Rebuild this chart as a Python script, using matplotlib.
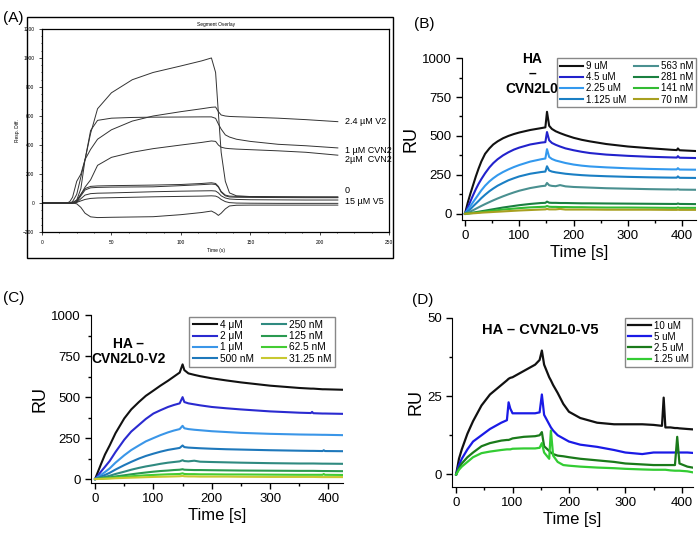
import matplotlib
matplotlib.use('Agg')
import matplotlib.pyplot as plt
from matplotlib.patches import Rectangle
from matplotlib.ticker import MultipleLocator

plt.rcParams['font.family'] = ['Liberation Sans', 'DejaVu Sans']

# ---- panel A: segment overlay (time in s, response) ----
tA = [0, 10, 18, 20, 22, 25, 28, 31, 35, 40, 50, 65, 80, 100, 115, 122,
      125, 127, 129, 132, 135, 140, 150, 170, 190, 213]
a_curves = [
    [0, 0, 0, 10, 40, 150, 200, 300, 480, 650, 760, 850, 900, 945, 980, 1000,
     900, 620, 350, 150, 70, 50, 45, 42, 41, 40],
    [0, 0, 0, 0, 0, 20, 100, 300, 500, 570, 585, 590, 592, 593, 594, 594,
     584, 545, 510, 470, 455, 440, 425, 405, 395, 380],
    [0, 0, 0, 0, 10, 60, 180, 300, 370, 440, 505, 565, 600, 630, 650, 660,
     662, 630, 607, 600, 597, 595, 592, 585, 575, 561],
    [0, 0, 0, 0, 5, 20, 60, 110, 160, 260, 315, 350, 375, 400, 418, 428,
     425, 400, 385, 378, 375, 372, 368, 360, 350, 330],
    [0, 0, 0, 0, 0, 10, 60, 100, 115, 118, 120, 122, 124, 128, 135, 140,
     135, 115, 80, 55, 48, 46, 45, 44, 43, 43],
    [0, 0, 0, 0, 0, 10, 50, 90, 105, 108, 110, 111, 112, 120, 127, 131,
     128, 110, 75, 50, 42, 40, 39, 38, 37, 37],
    [0, 0, 0, 0, 0, 5, 30, 55, 65, 68, 70, 74, 78, 82, 84, 85,
     83, 70, 50, 35, 28, 25, 23, 22, 21, 21],
    [0, 0, 0, 0, 0, 5, 15, 25, 32, 35, 37, 40, 43, 46, 48, 50,
     48, 40, 25, 10, 3, 0, -1, -2, -2, -2],
    [0, 0, 0, 0, 0, -5, -30, -70, -95, -100, -98, -96, -94, -80, -65, -55,
     -70, -85, -70, -40, -20, -15, -14, -14, -14, -14],
]
a_labels = ['2.4 µM V2', '1 µM CVN2', '2µM  CVN2', '0', '15 µM V5']
a_label_y = [565, 365, 297, 90, 14]

# ---- panel B: HA - CVN2L0 ----
tB = [0, 5, 10, 15, 20, 25, 30, 37, 45, 52, 60, 70, 80, 90, 100, 120, 140,
      148, 151, 155, 160, 167, 175, 185, 200, 215, 230, 260, 300, 340, 380,
      390, 392, 395, 425]
b_labels = ['9 uM', '4.5 uM', '2.25 uM', '1.125 uM',
            '563 nM', '281 nM', '141 nM', '70 nM']
b_colors = ['#111111', '#2222cc', '#3399ee', '#1a7fc4',
            '#4a9090', '#1a8040', '#33bb33', '#a8a020']
b_values = [
    [0, 70, 130, 185, 240, 290, 335, 385, 420, 445, 465, 485, 500, 512, 522, 538, 550,
     555, 655, 565, 545, 530, 518, 505, 488, 475, 465, 448, 432, 421, 411,
     409, 420, 408, 403],
    [0, 40, 80, 120, 158, 192, 222, 260, 298, 325, 350, 375, 395, 412, 425, 445, 457,
     460, 525, 472, 455, 443, 432, 420, 408, 398, 390, 380, 372, 366, 362,
     361, 370, 360, 358],
    [0, 25, 50, 75, 100, 125, 150, 180, 208, 228, 248, 268, 285, 300, 313, 335, 350,
     355, 415, 365, 352, 342, 335, 326, 316, 309, 304, 298, 292, 288, 285,
     285, 293, 284, 283],
    [0, 15, 30, 48, 65, 82, 100, 122, 145, 162, 180, 198, 215, 228, 240, 257, 268,
     271, 305, 278, 271, 266, 262, 257, 252, 248, 245, 241, 237, 234, 232,
     232, 240, 231, 230],
    [0, 7, 15, 23, 32, 41, 50, 62, 75, 86, 98, 112, 125, 137, 148, 165, 177,
     180, 198, 183, 179, 177, 184, 176, 172, 170, 168, 164, 161, 158, 156,
     156, 158, 155, 154],
    [0, 2, 5, 7, 10, 13, 16, 20, 25, 29, 34, 40, 45, 50, 55, 63, 69,
     70, 78, 71, 70, 70, 69, 69, 68, 67, 67, 66, 65, 64, 63,
     63, 66, 63, 62],
    [0, 1, 3, 5, 7, 9, 11, 14, 17, 20, 23, 27, 30, 33, 36, 41, 44,
     45, 50, 45, 44, 44, 43, 43, 42, 42, 41, 40, 40, 39, 38,
     38, 41, 38, 38],
    [0, 1, 2, 3, 4, 5.5, 7, 8.5, 10, 11.5, 13, 15, 17, 19, 21, 24, 27,
     28, 31, 28, 28, 28, 31, 27, 27, 27, 27, 26, 26, 26, 25,
     25, 26, 25, 25],
]

# ---- panel C: HA - CVN2L0-V2 ----
tC = [0, 5, 10, 17, 25, 35, 50, 62, 75, 87, 100, 112, 125, 135, 145, 150, 153,
      160, 170, 180, 200, 225, 250, 300, 350, 370, 372, 374, 390, 392, 394, 425]
c_labels = ['4 μM', '2 μM', '1 μM', '500 nM',
            '250 nM', '125 nM', '62.5 nM', '31.25 nM']
c_colors = ['#111111', '#2a2ad0', '#3a96e8', '#1e78bb',
            '#2f8a80', '#2a9a50', '#44cc33', '#c8c830']
c_values = [
    [0, 45, 90, 150, 205, 280, 370, 425, 470, 508, 540, 570, 600, 625, 650, 700, 665,
     645, 636, 628, 615, 602, 590, 570, 556, 552, 552, 552, 548, 548, 548, 545],
    [0, 22, 45, 75, 110, 165, 240, 290, 330, 367, 400, 420, 440, 452, 462, 500, 470,
     462, 456, 450, 440, 432, 425, 413, 405, 403, 410, 402, 400, 400, 400, 398],
    [0, 12, 25, 43, 65, 100, 145, 177, 205, 230, 250, 268, 285, 296, 305, 325, 310,
     305, 301, 298, 292, 287, 282, 276, 272, 271, 271, 271, 270, 270, 270, 268],
    [0, 7, 15, 25, 38, 58, 85, 105, 125, 141, 155, 167, 178, 184, 190, 205, 195,
     192, 190, 188, 185, 182, 180, 176, 173, 172, 172, 172, 171, 176, 171, 170],
    [0, 4, 8, 13, 20, 31, 45, 57, 68, 77, 85, 93, 100, 104, 108, 115, 110,
     108, 112, 106, 104, 102, 100, 97, 95, 95, 95, 95, 94, 94, 94, 93],
    [0, 2, 4, 7, 10, 16, 23, 29, 35, 40, 45, 49, 52, 55, 57, 60, 57,
     56, 55, 55, 54, 53, 52, 51, 50, 50, 50, 50, 49, 49, 49, 48],
    [0, 1, 2, 4, 6, 9, 13, 17, 20, 23, 25, 27, 29, 30, 31, 35, 31,
     30, 30, 29, 29, 28, 28, 27, 26, 26, 26, 26, 26, 31, 26, 25],
    [0, 0.5, 1, 2, 3, 5, 7, 8.5, 10, 11.5, 13, 14, 15, 16, 17, 19, 17,
     16, 16, 15, 15, 15, 14, 13, 13, 13, 13, 13, 12, 12, 12, 12],
]

# ---- panel D: HA - CVN2L0-V5 ----
tD = [0, 5, 10, 20, 30, 45, 60, 80, 90, 93, 96, 100, 120, 140, 148, 152, 156,
      165, 168, 172, 180, 190, 200, 220, 250, 280, 300, 330, 350, 365, 368,
      371, 380, 388, 392, 396, 410, 425]
d_labels = ['10 uM', '5 uM', '2.5 uM', '1.25 uM']
d_colors = ['#111111', '#1a1ae6', '#1a7a1a', '#33cc33']
d_values = [
    [0, 5, 8, 13, 17, 22, 25.5, 28.5, 30, 30.5, 30.8, 31, 33, 35, 36.5, 39.5, 35,
     31, 30, 28.5, 26, 22.5, 20, 18, 16.5, 16, 16, 16, 15.8, 15.5, 24.5,
     15, 15, 14.8, 14.8, 14.7, 14.5, 14.3],
    [0, 3, 5, 8, 10.5, 12.5, 14.5, 16.5, 17.3, 23, 21, 19.5, 19.5, 19.5, 19.8, 25.5, 19,
     16, 15, 14, 12.5, 11.5, 10.5, 9.5, 8.8, 7.8, 7, 6.5, 7, 7, 7,
     7, 7, 7, 7, 7, 7, 6.8],
    [0, 2, 3.5, 5.5, 7, 9, 10, 10.8, 11, 11, 11.2, 11.5, 12, 12.2, 12.5, 13.5, 9,
     7.5, 7, 6.5, 6, 5.8, 5.5, 5, 4.5, 4, 3.5, 3.2, 3, 3, 3,
     3, 3, 3, 12, 3.5, 2.5, 2],
    [0, 1.5, 2.5, 4, 5.5, 6.8, 7.3, 7.8, 8, 8, 8, 8.2, 8.3, 8.3, 8.5, 10, 7,
     5, 14, 6, 4, 3, 2.8, 2.5, 2.2, 2, 1.8, 1.6, 1.5, 1.5, 1.5,
     1.5, 1.3, 1.2, 1.2, 1.2, 1, 0.5],
]


def style_kinetics(ax, ystep):
    ax.spines['top'].set_visible(False)
    ax.spines['right'].set_visible(False)
    ax.xaxis.set_major_locator(MultipleLocator(100))
    ax.xaxis.set_minor_locator(MultipleLocator(50))
    ax.yaxis.set_major_locator(MultipleLocator(ystep))
    ax.yaxis.set_minor_locator(MultipleLocator(ystep / 2))
    ax.tick_params(which='major', length=4, width=1, labelsize=9.5)
    ax.tick_params(which='minor', length=2.5, width=1)
    ax.set_xlabel('Time [s]', fontsize=12, labelpad=2)
    ax.set_ylabel('RU', fontsize=13, labelpad=2)


def kinetics_legend(ax, anchor, ncol, size):
    ax.legend(ncol=ncol, loc='upper right', bbox_to_anchor=anchor, fontsize=size,
              fancybox=False, edgecolor='#888888', framealpha=1, borderaxespad=0,
              handlelength=2.4, columnspacing=0.8, labelspacing=0.12,
              borderpad=0.3, handletextpad=0.3)


fig = plt.figure(figsize=(7, 5.36), dpi=100)

# panel A
axA = fig.add_axes([0.06, 0.567, 0.496, 0.379])
for vals in a_curves:
    axA.plot(tA, vals, color='#333333', lw=0.7)
axA.set_xlim(0, 250)
axA.set_ylim(-200, 1200)
axA.xaxis.set_major_locator(MultipleLocator(50))
axA.xaxis.set_minor_locator(MultipleLocator(12.5))
axA.yaxis.set_major_locator(MultipleLocator(200))
axA.yaxis.set_minor_locator(MultipleLocator(50))
axA.tick_params(which='both', labelsize=3.5, length=2, width=0.5)
axA.tick_params(which='minor', length=1)
for s in axA.spines.values():
    s.set_linewidth(0.9)
axA.set_title('Segment Overlay', fontsize=3.5, pad=2)
axA.set_xlabel('Time (s)', fontsize=3.5, labelpad=2)
axA.set_ylabel('Resp. Diff.', fontsize=3.5, labelpad=2)
for txt, yv in zip(a_labels, a_label_y):
    axA.text(218, yv, txt, fontsize=6.5, va='center', ha='left', clip_on=False)
fig.add_artist(Rectangle((0.0386, 0.519), 0.523, 0.45, transform=fig.transFigure,
                         fill=False, lw=1, edgecolor='black'))
fig.text(0.004, 0.966, '(A)', fontsize=11, va='center')

# panel B
axB = fig.add_axes([0.66, 0.5896, 0.334, 0.302])
for lbl, col, vals in zip(b_labels, b_colors, b_values):
    axB.plot(tB, vals, color=col, lw=1.5, label=lbl)
axB.set_xlim(-5.5, 425)
axB.set_ylim(-40, 1000)
style_kinetics(axB, 250)
kinetics_legend(axB, (1.0, 1.0), 2, 7)
fig.text(532 / 700, 1 - 52 / 536, 'HA\n–\nCVN2L0', fontsize=10, fontweight='bold',
         ha='center', va='top', linespacing=1.1)
fig.text(0.592, 0.955, '(B)', fontsize=11, va='center')

# panel C
axC = fig.add_axes([0.13, 0.0989, 0.36, 0.313])
for lbl, col, vals in zip(c_labels, c_colors, c_values):
    axC.plot(tC, vals, color=col, lw=1.5, label=lbl)
axC.set_xlim(-7, 425)
axC.set_ylim(-24, 1000)
style_kinetics(axC, 250)
kinetics_legend(axC, (0.968, 0.99), 2, 7.3)
fig.text(128 / 700, 1 - 337 / 536, 'HA –\nCVN2L0-V2', fontsize=10, fontweight='bold',
         ha='center', va='top', linespacing=1.1)
fig.text(0.004, 1 - 298 / 536, '(C)', fontsize=11, va='center')

# panel D
axD = fig.add_axes([0.646, 0.0914, 0.344, 0.316])
for lbl, col, vals in zip(d_labels, d_colors, d_values):
    axD.plot(tD, vals, color=col, lw=1.6, label=lbl)
axD.set_xlim(-7, 420)
axD.set_ylim(-4, 50)
style_kinetics(axD, 25)
kinetics_legend(axD, (0.996, 1.0), 1, 7)
fig.text(540 / 700, 1 - 330 / 536, 'HA – CVN2L0-V5', fontsize=10.5,
         fontweight='bold', ha='center', va='center')
fig.text(0.589, 1 - 300 / 536, '(D)', fontsize=11, va='center')

fig.savefig('out.png', dpi=100)
